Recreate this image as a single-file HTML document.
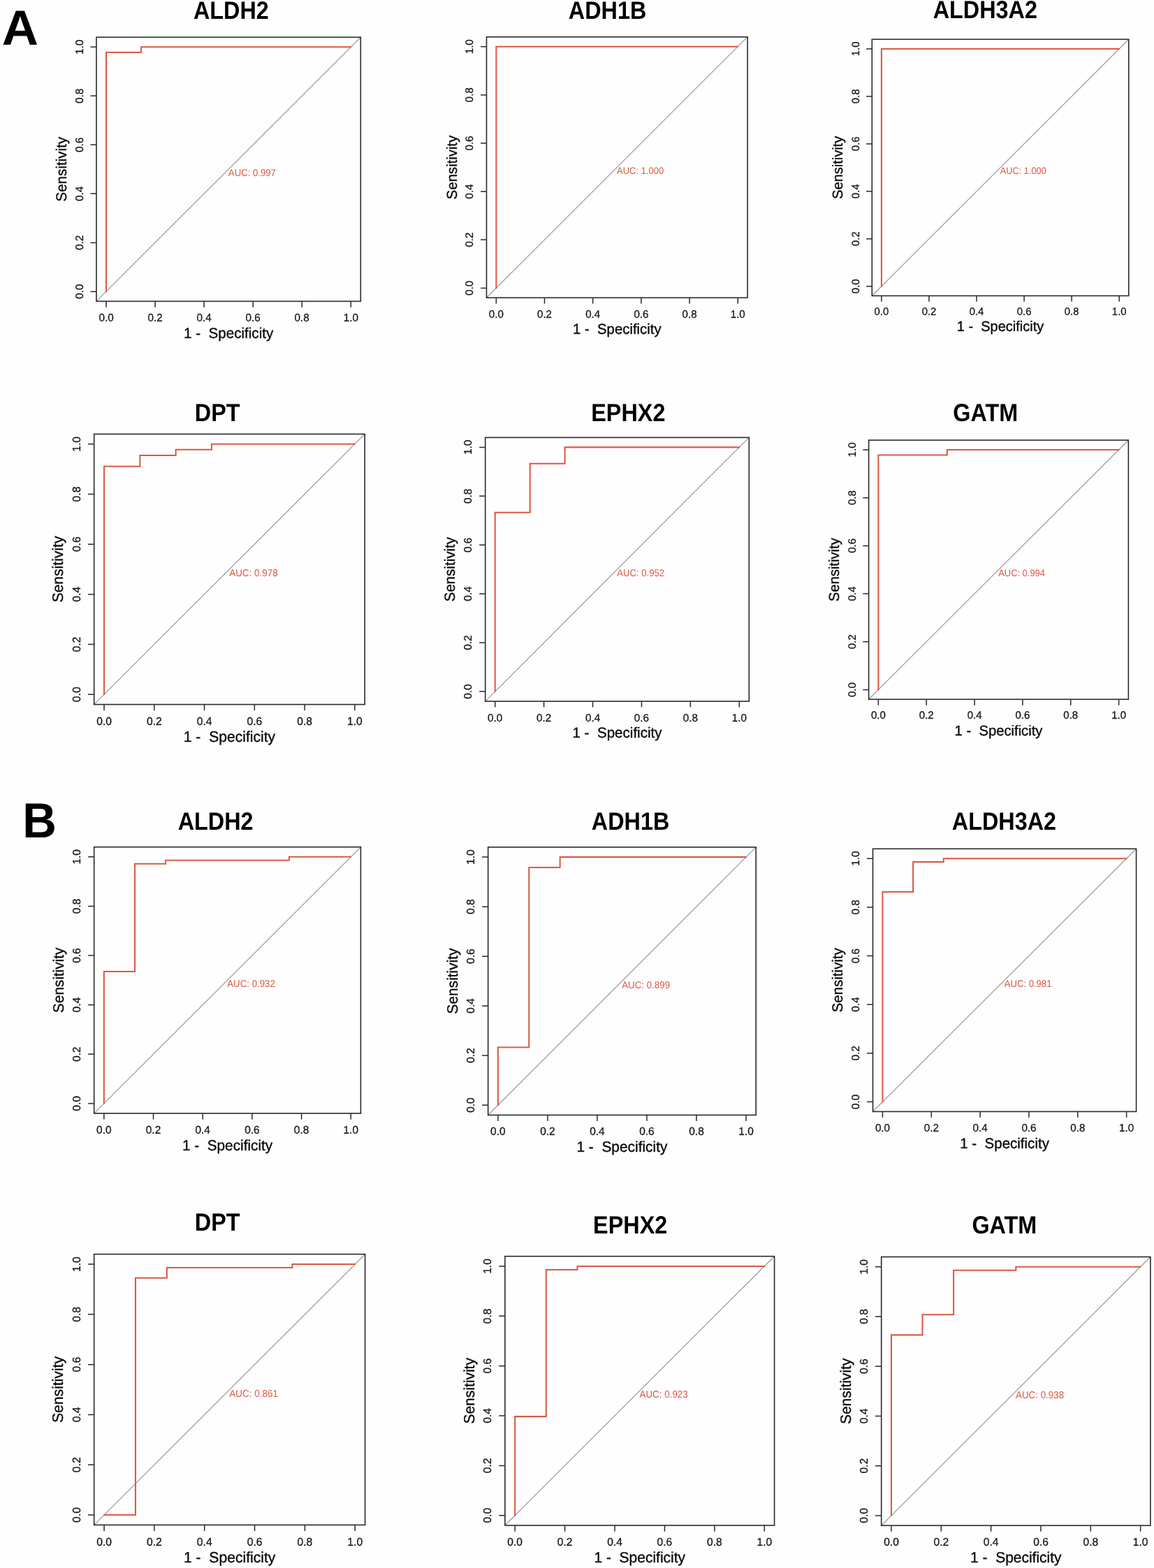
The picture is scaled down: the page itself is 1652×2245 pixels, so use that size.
<!DOCTYPE html>
<html lang="en">
<head>
<meta charset="utf-8">
<title>ROC curves</title>
<style>
html,body{margin:0;padding:0;background:#fefefe;}
body{width:1652px;height:2245px;overflow:hidden;}
svg{display:block;font-family:"Liberation Sans",Arial,Helvetica,sans-serif;}
text{white-space:pre;fill:#111;text-rendering:geometricPrecision;}
.bx{fill:none;stroke:#2a2a2a;stroke-width:1.6;}
.tk{fill:none;stroke:#2a2a2a;stroke-width:1.5;}
.dg{stroke:#9c9c9c;stroke-width:1.25;}
.roc{fill:none;stroke:#da5a45;stroke-width:2.05;stroke-linejoin:miter;stroke-linecap:round;}
.tl text{text-anchor:middle;fill:#161616;stroke:#161616;stroke-width:0.3;}
.al{text-anchor:middle;fill:#0a0a0a;stroke:#0a0a0a;stroke-width:0.35;}
.auc{fill:#da5842;}
.tt{font-weight:700;font-size:32px;text-anchor:middle;fill:#000;}
.pl{font-weight:700;font-size:68px;fill:#000;}
</style>
</head>
<body>
<svg width="1652" height="2245" viewBox="0 0 1652 2245">
<rect x="0" y="0" width="1652" height="2245" fill="#fefefe"/>
<g>
<line class="dg" x1="138" y1="431.4" x2="516.3" y2="53.3"/>
<path class="roc" d="M152.01 417.4 L152.01 75.01 L202.1 75.01 L202.1 67.3 L502.29 67.3"/>
<rect class="bx" x="138" y="53.3" width="378.3" height="378.1"/>
<path class="tk" d="M152.01 431.4V439.9M138 417.4H129.5M222.07 431.4V439.9M138 347.38H129.5M292.12 431.4V439.9M138 277.36H129.5M362.18 431.4V439.9M138 207.34H129.5M432.23 431.4V439.9M138 137.32H129.5M502.29 431.4V439.9M138 67.3H129.5"/>
<g class="tl" font-size="15.31">
<text transform="translate(152.01 459.97) scale(1 1.02)">0.0</text>
<text transform="translate(222.07 459.97) scale(1 1.02)">0.2</text>
<text transform="translate(292.12 459.97) scale(1 1.02)">0.4</text>
<text transform="translate(362.18 459.97) scale(1 1.02)">0.6</text>
<text transform="translate(432.23 459.97) scale(1 1.02)">0.8</text>
<text transform="translate(502.29 459.97) scale(1 1.02)">1.0</text>
<text transform="translate(118.69 417.4) rotate(-90) scale(1 1.02)">0.0</text>
<text transform="translate(118.69 347.38) rotate(-90) scale(1 1.02)">0.2</text>
<text transform="translate(118.69 277.36) rotate(-90) scale(1 1.02)">0.4</text>
<text transform="translate(118.69 207.34) rotate(-90) scale(1 1.02)">0.6</text>
<text transform="translate(118.69 137.32) rotate(-90) scale(1 1.02)">0.8</text>
<text transform="translate(118.69 67.3) rotate(-90) scale(1 1.02)">1.0</text>
</g>
<text class="al" font-size="20.61" transform="translate(327.15 483.63) scale(1 1.015)">1 -  Specificity</text>
<text class="al" font-size="20.61" transform="translate(94.58 242.35) rotate(-90) scale(1 1.015)">Sensitivity</text>
<text class="auc" font-size="13.16" transform="translate(326.85 252.06) scale(1 1.06)">AUC: 0.997</text>
<text class="tt" transform="translate(330.9 27.3) scale(1.012 1.115)">ALDH2</text>
</g>
<g>
<line class="dg" x1="696.5" y1="426.3" x2="1070.1" y2="52.9"/>
<path class="roc" d="M710.34 412.47 L710.34 66.73 L1056.26 66.73"/>
<rect class="bx" x="696.5" y="52.9" width="373.6" height="373.4"/>
<path class="tk" d="M710.34 426.3V434.7M696.5 412.47H688.1M779.52 426.3V434.7M696.5 343.32H688.1M848.71 426.3V434.7M696.5 274.17H688.1M917.89 426.3V434.7M696.5 205.03H688.1M987.08 426.3V434.7M696.5 135.88H688.1M1056.26 426.3V434.7M696.5 66.73H688.1"/>
<g class="tl" font-size="15.12">
<text transform="translate(710.34 454.51) scale(1 1.02)">0.0</text>
<text transform="translate(779.52 454.51) scale(1 1.02)">0.2</text>
<text transform="translate(848.71 454.51) scale(1 1.02)">0.4</text>
<text transform="translate(917.89 454.51) scale(1 1.02)">0.6</text>
<text transform="translate(987.08 454.51) scale(1 1.02)">0.8</text>
<text transform="translate(1056.26 454.51) scale(1 1.02)">1.0</text>
<text transform="translate(677.43 412.47) rotate(-90) scale(1 1.02)">0.0</text>
<text transform="translate(677.43 343.32) rotate(-90) scale(1 1.02)">0.2</text>
<text transform="translate(677.43 274.17) rotate(-90) scale(1 1.02)">0.4</text>
<text transform="translate(677.43 205.03) rotate(-90) scale(1 1.02)">0.6</text>
<text transform="translate(677.43 135.88) rotate(-90) scale(1 1.02)">0.8</text>
<text transform="translate(677.43 66.73) rotate(-90) scale(1 1.02)">1.0</text>
</g>
<text class="al" font-size="20.35" transform="translate(883.3 477.88) scale(1 1.015)">1 -  Specificity</text>
<text class="al" font-size="20.35" transform="translate(653.62 239.6) rotate(-90) scale(1 1.015)">Sensitivity</text>
<text class="auc" font-size="12.99" transform="translate(883 249.18) scale(1 1.06)">AUC: 1.000</text>
<text class="tt" transform="translate(869.6 27.2) scale(1.012 1.115)">ADH1B</text>
</g>
<g>
<line class="dg" x1="1248.3" y1="423.5" x2="1615.8" y2="56.3"/>
<path class="roc" d="M1261.91 409.9 L1261.91 69.9 L1602.19 69.9"/>
<rect class="bx" x="1248.3" y="56.3" width="367.5" height="367.2"/>
<path class="tk" d="M1261.91 423.5V431.76M1248.3 409.9H1240.04M1329.97 423.5V431.76M1248.3 341.9H1240.04M1398.02 423.5V431.76M1248.3 273.9H1240.04M1466.08 423.5V431.76M1248.3 205.9H1240.04M1534.13 423.5V431.76M1248.3 137.9H1240.04M1602.19 423.5V431.76M1248.3 69.9H1240.04"/>
<g class="tl" font-size="14.87">
<text transform="translate(1261.91 451.25) scale(1 1.02)">0.0</text>
<text transform="translate(1329.97 451.25) scale(1 1.02)">0.2</text>
<text transform="translate(1398.02 451.25) scale(1 1.02)">0.4</text>
<text transform="translate(1466.08 451.25) scale(1 1.02)">0.6</text>
<text transform="translate(1534.13 451.25) scale(1 1.02)">0.8</text>
<text transform="translate(1602.19 451.25) scale(1 1.02)">1.0</text>
<text transform="translate(1229.54 409.9) rotate(-90) scale(1 1.02)">0.0</text>
<text transform="translate(1229.54 341.9) rotate(-90) scale(1 1.02)">0.2</text>
<text transform="translate(1229.54 273.9) rotate(-90) scale(1 1.02)">0.4</text>
<text transform="translate(1229.54 205.9) rotate(-90) scale(1 1.02)">0.6</text>
<text transform="translate(1229.54 137.9) rotate(-90) scale(1 1.02)">0.8</text>
<text transform="translate(1229.54 69.9) rotate(-90) scale(1 1.02)">1.0</text>
</g>
<text class="al" font-size="20.02" transform="translate(1432.05 474.23) scale(1 1.015)">1 -  Specificity</text>
<text class="al" font-size="20.02" transform="translate(1206.12 239.9) rotate(-90) scale(1 1.015)">Sensitivity</text>
<text class="auc" font-size="12.78" transform="translate(1431.75 249.33) scale(1 1.06)">AUC: 1.000</text>
<text class="tt" transform="translate(1410.3 25.95) scale(1.012 1.115)">ALDH3A2</text>
</g>
<g>
<line class="dg" x1="134.7" y1="1008.6" x2="522.2" y2="621.5"/>
<path class="roc" d="M149.05 994.26 L149.05 667.74 L200.36 667.74 L200.36 651.97 L251.67 651.97 L251.67 643.72 L302.98 643.72 L302.98 635.84 L507.85 635.84"/>
<rect class="bx" x="134.7" y="621.5" width="387.5" height="387.1"/>
<path class="tk" d="M149.05 1008.6V1017.31M134.7 994.26H125.99M220.81 1008.6V1017.31M134.7 922.58H125.99M292.57 1008.6V1017.31M134.7 850.89H125.99M364.33 1008.6V1017.31M134.7 779.21H125.99M436.09 1008.6V1017.31M134.7 707.52H125.99M507.85 1008.6V1017.31M134.7 635.84H125.99"/>
<g class="tl" font-size="15.68">
<text transform="translate(149.05 1037.85) scale(1 1.02)">0.0</text>
<text transform="translate(220.81 1037.85) scale(1 1.02)">0.2</text>
<text transform="translate(292.57 1037.85) scale(1 1.02)">0.4</text>
<text transform="translate(364.33 1037.85) scale(1 1.02)">0.6</text>
<text transform="translate(436.09 1037.85) scale(1 1.02)">0.8</text>
<text transform="translate(507.85 1037.85) scale(1 1.02)">1.0</text>
<text transform="translate(114.93 994.26) rotate(-90) scale(1 1.02)">0.0</text>
<text transform="translate(114.93 922.58) rotate(-90) scale(1 1.02)">0.2</text>
<text transform="translate(114.93 850.89) rotate(-90) scale(1 1.02)">0.4</text>
<text transform="translate(114.93 779.21) rotate(-90) scale(1 1.02)">0.6</text>
<text transform="translate(114.93 707.52) rotate(-90) scale(1 1.02)">0.8</text>
<text transform="translate(114.93 635.84) rotate(-90) scale(1 1.02)">1.0</text>
</g>
<text class="al" font-size="21.11" transform="translate(328.45 1062.08) scale(1 1.015)">1 -  Specificity</text>
<text class="al" font-size="21.11" transform="translate(90.23 815.05) rotate(-90) scale(1 1.015)">Sensitivity</text>
<text class="auc" font-size="13.47" transform="translate(328.15 824.99) scale(1 1.06)">AUC: 0.978</text>
<text class="tt" transform="translate(311.2 603.1) scale(1.012 1.115)">DPT</text>
</g>
<g>
<line class="dg" x1="694.7" y1="1004.1" x2="1072.3" y2="626.4"/>
<path class="roc" d="M708.69 990.11 L708.69 733.76 L758.68 733.76 L758.68 663.82 L808.68 663.82 L808.68 640.39 L1058.31 640.39"/>
<rect class="bx" x="694.7" y="626.4" width="377.6" height="377.7"/>
<path class="tk" d="M708.69 1004.1V1012.59M694.7 990.11H686.21M778.61 1004.1V1012.59M694.7 920.17H686.21M848.54 1004.1V1012.59M694.7 850.22H686.21M918.46 1004.1V1012.59M694.7 780.28H686.21M988.39 1004.1V1012.59M694.7 710.33H686.21M1058.31 1004.1V1012.59M694.7 640.39H686.21"/>
<g class="tl" font-size="15.29">
<text transform="translate(708.69 1032.62) scale(1 1.02)">0.0</text>
<text transform="translate(778.61 1032.62) scale(1 1.02)">0.2</text>
<text transform="translate(848.54 1032.62) scale(1 1.02)">0.4</text>
<text transform="translate(918.46 1032.62) scale(1 1.02)">0.6</text>
<text transform="translate(988.39 1032.62) scale(1 1.02)">0.8</text>
<text transform="translate(1058.31 1032.62) scale(1 1.02)">1.0</text>
<text transform="translate(675.42 990.11) rotate(-90) scale(1 1.02)">0.0</text>
<text transform="translate(675.42 920.17) rotate(-90) scale(1 1.02)">0.2</text>
<text transform="translate(675.42 850.22) rotate(-90) scale(1 1.02)">0.4</text>
<text transform="translate(675.42 780.28) rotate(-90) scale(1 1.02)">0.6</text>
<text transform="translate(675.42 710.33) rotate(-90) scale(1 1.02)">0.8</text>
<text transform="translate(675.42 640.39) rotate(-90) scale(1 1.02)">1.0</text>
</g>
<text class="al" font-size="20.58" transform="translate(883.5 1056.25) scale(1 1.015)">1 -  Specificity</text>
<text class="al" font-size="20.58" transform="translate(651.34 815.25) rotate(-90) scale(1 1.015)">Sensitivity</text>
<text class="auc" font-size="13.14" transform="translate(883.2 824.94) scale(1 1.06)">AUC: 0.952</text>
<text class="tt" transform="translate(899.35 603.1) scale(1.012 1.115)">EPHX2</text>
</g>
<g>
<line class="dg" x1="1243.6" y1="1001.3" x2="1615.4" y2="630.2"/>
<path class="roc" d="M1257.37 987.56 L1257.37 651.5 L1355.83 651.5 L1355.83 643.94 L1601.63 643.94"/>
<rect class="bx" x="1243.6" y="630.2" width="371.8" height="371.1"/>
<path class="tk" d="M1257.37 1001.3V1009.65M1243.6 987.56H1235.25M1326.22 1001.3V1009.65M1243.6 918.83H1235.25M1395.07 1001.3V1009.65M1243.6 850.11H1235.25M1463.93 1001.3V1009.65M1243.6 781.39H1235.25M1532.78 1001.3V1009.65M1243.6 712.67H1235.25M1601.63 1001.3V1009.65M1243.6 643.94H1235.25"/>
<g class="tl" font-size="15.03">
<text transform="translate(1257.37 1029.36) scale(1 1.02)">0.0</text>
<text transform="translate(1326.22 1029.36) scale(1 1.02)">0.2</text>
<text transform="translate(1395.07 1029.36) scale(1 1.02)">0.4</text>
<text transform="translate(1463.93 1029.36) scale(1 1.02)">0.6</text>
<text transform="translate(1532.78 1029.36) scale(1 1.02)">0.8</text>
<text transform="translate(1601.63 1029.36) scale(1 1.02)">1.0</text>
<text transform="translate(1224.63 987.56) rotate(-90) scale(1 1.02)">0.0</text>
<text transform="translate(1224.63 918.83) rotate(-90) scale(1 1.02)">0.2</text>
<text transform="translate(1224.63 850.11) rotate(-90) scale(1 1.02)">0.4</text>
<text transform="translate(1224.63 781.39) rotate(-90) scale(1 1.02)">0.6</text>
<text transform="translate(1224.63 712.67) rotate(-90) scale(1 1.02)">0.8</text>
<text transform="translate(1224.63 643.94) rotate(-90) scale(1 1.02)">1.0</text>
</g>
<text class="al" font-size="20.24" transform="translate(1429.5 1052.6) scale(1 1.015)">1 -  Specificity</text>
<text class="al" font-size="20.24" transform="translate(1200.95 815.75) rotate(-90) scale(1 1.015)">Sensitivity</text>
<text class="auc" font-size="12.92" transform="translate(1429.2 825.28) scale(1 1.06)">AUC: 0.994</text>
<text class="tt" transform="translate(1410.7 603.1) scale(1.012 1.115)">GATM</text>
</g>
<g>
<line class="dg" x1="134.7" y1="1594.1" x2="516.4" y2="1212.7"/>
<path class="roc" d="M148.84 1579.97 L148.84 1391.04 L193.02 1391.04 L193.02 1236.71 L237.19 1236.71 L237.19 1231.77 L413.91 1231.77 L413.91 1226.83 L502.26 1226.83"/>
<rect class="bx" x="134.7" y="1212.7" width="381.7" height="381.4"/>
<path class="tk" d="M148.84 1594.1V1602.68M134.7 1579.97H126.12M219.52 1594.1V1602.68M134.7 1509.34H126.12M290.21 1594.1V1602.68M134.7 1438.71H126.12M360.89 1594.1V1602.68M134.7 1368.09H126.12M431.58 1594.1V1602.68M134.7 1297.46H126.12M502.26 1594.1V1602.68M134.7 1226.83H126.12"/>
<g class="tl" font-size="15.44">
<text transform="translate(148.84 1622.92) scale(1 1.02)">0.0</text>
<text transform="translate(219.52 1622.92) scale(1 1.02)">0.2</text>
<text transform="translate(290.21 1622.92) scale(1 1.02)">0.4</text>
<text transform="translate(360.89 1622.92) scale(1 1.02)">0.6</text>
<text transform="translate(431.58 1622.92) scale(1 1.02)">0.8</text>
<text transform="translate(502.26 1622.92) scale(1 1.02)">1.0</text>
<text transform="translate(115.22 1579.97) rotate(-90) scale(1 1.02)">0.0</text>
<text transform="translate(115.22 1509.34) rotate(-90) scale(1 1.02)">0.2</text>
<text transform="translate(115.22 1438.71) rotate(-90) scale(1 1.02)">0.4</text>
<text transform="translate(115.22 1368.09) rotate(-90) scale(1 1.02)">0.6</text>
<text transform="translate(115.22 1297.46) rotate(-90) scale(1 1.02)">0.8</text>
<text transform="translate(115.22 1226.83) rotate(-90) scale(1 1.02)">1.0</text>
</g>
<text class="al" font-size="20.79" transform="translate(325.55 1646.79) scale(1 1.015)">1 -  Specificity</text>
<text class="al" font-size="20.79" transform="translate(90.89 1403.4) rotate(-90) scale(1 1.015)">Sensitivity</text>
<text class="auc" font-size="13.27" transform="translate(325.25 1413.19) scale(1 1.06)">AUC: 0.932</text>
<text class="tt" transform="translate(308.6 1188.25) scale(1.012 1.115)">ALDH2</text>
</g>
<g>
<line class="dg" x1="698.7" y1="1596.5" x2="1082.2" y2="1212.9"/>
<path class="roc" d="M712.9 1582.29 L712.9 1499.53 L757.29 1499.53 L757.29 1242.03 L801.68 1242.03 L801.68 1227.11 L1068 1227.11"/>
<rect class="bx" x="698.7" y="1212.9" width="383.5" height="383.6"/>
<path class="tk" d="M712.9 1596.5V1605.12M698.7 1582.29H690.08M783.92 1596.5V1605.12M698.7 1511.26H690.08M854.94 1596.5V1605.12M698.7 1440.22H690.08M925.96 1596.5V1605.12M698.7 1369.18H690.08M996.98 1596.5V1605.12M698.7 1298.14H690.08M1068 1596.5V1605.12M698.7 1227.11H690.08"/>
<g class="tl" font-size="15.52">
<text transform="translate(712.9 1625.47) scale(1 1.02)">0.0</text>
<text transform="translate(783.92 1625.47) scale(1 1.02)">0.2</text>
<text transform="translate(854.94 1625.47) scale(1 1.02)">0.4</text>
<text transform="translate(925.96 1625.47) scale(1 1.02)">0.6</text>
<text transform="translate(996.98 1625.47) scale(1 1.02)">0.8</text>
<text transform="translate(1068 1625.47) scale(1 1.02)">1.0</text>
<text transform="translate(679.12 1582.29) rotate(-90) scale(1 1.02)">0.0</text>
<text transform="translate(679.12 1511.26) rotate(-90) scale(1 1.02)">0.2</text>
<text transform="translate(679.12 1440.22) rotate(-90) scale(1 1.02)">0.4</text>
<text transform="translate(679.12 1369.18) rotate(-90) scale(1 1.02)">0.6</text>
<text transform="translate(679.12 1298.14) rotate(-90) scale(1 1.02)">0.8</text>
<text transform="translate(679.12 1227.11) rotate(-90) scale(1 1.02)">1.0</text>
</g>
<text class="al" font-size="20.9" transform="translate(890.45 1649.47) scale(1 1.015)">1 -  Specificity</text>
<text class="al" font-size="20.9" transform="translate(654.66 1404.7) rotate(-90) scale(1 1.015)">Sensitivity</text>
<text class="auc" font-size="13.34" transform="translate(890.15 1414.54) scale(1 1.06)">AUC: 0.899</text>
<text class="tt" transform="translate(902.6 1188.25) scale(1.012 1.115)">ADH1B</text>
</g>
<g>
<line class="dg" x1="1249.5" y1="1591.5" x2="1626.6" y2="1215.3"/>
<path class="roc" d="M1263.47 1577.57 L1263.47 1276.95 L1307.11 1276.95 L1307.11 1234.11 L1350.76 1234.11 L1350.76 1229.23 L1612.63 1229.23"/>
<rect class="bx" x="1249.5" y="1215.3" width="377.1" height="376.2"/>
<path class="tk" d="M1263.47 1591.5V1599.97M1249.5 1577.57H1241.03M1333.3 1591.5V1599.97M1249.5 1507.9H1241.03M1403.13 1591.5V1599.97M1249.5 1438.23H1241.03M1472.97 1591.5V1599.97M1249.5 1368.57H1241.03M1542.8 1591.5V1599.97M1249.5 1298.9H1241.03M1612.63 1591.5V1599.97M1249.5 1229.23H1241.03"/>
<g class="tl" font-size="15.25">
<text transform="translate(1263.47 1619.95) scale(1 1.02)">0.0</text>
<text transform="translate(1333.3 1619.95) scale(1 1.02)">0.2</text>
<text transform="translate(1403.13 1619.95) scale(1 1.02)">0.4</text>
<text transform="translate(1472.97 1619.95) scale(1 1.02)">0.6</text>
<text transform="translate(1542.8 1619.95) scale(1 1.02)">0.8</text>
<text transform="translate(1612.63 1619.95) scale(1 1.02)">1.0</text>
<text transform="translate(1230.27 1577.57) rotate(-90) scale(1 1.02)">0.0</text>
<text transform="translate(1230.27 1507.9) rotate(-90) scale(1 1.02)">0.2</text>
<text transform="translate(1230.27 1438.23) rotate(-90) scale(1 1.02)">0.4</text>
<text transform="translate(1230.27 1368.57) rotate(-90) scale(1 1.02)">0.6</text>
<text transform="translate(1230.27 1298.9) rotate(-90) scale(1 1.02)">0.8</text>
<text transform="translate(1230.27 1229.23) rotate(-90) scale(1 1.02)">1.0</text>
</g>
<text class="al" font-size="20.53" transform="translate(1438.05 1643.51) scale(1 1.015)">1 -  Specificity</text>
<text class="al" font-size="20.53" transform="translate(1206.26 1403.4) rotate(-90) scale(1 1.015)">Sensitivity</text>
<text class="auc" font-size="13.1" transform="translate(1437.75 1413.07) scale(1 1.06)">AUC: 0.981</text>
<text class="tt" transform="translate(1437.45 1188.3) scale(1.012 1.115)">ALDH3A2</text>
</g>
<g>
<line class="dg" x1="134.7" y1="2183.4" x2="522.6" y2="1795.7"/>
<path class="roc" d="M149.07 2169.04 L193.96 2169.04 L193.96 1829.8 L238.86 1829.8 L238.86 1815.09 L418.44 1815.09 L418.44 1810.06 L508.23 1810.06"/>
<rect class="bx" x="134.7" y="1795.7" width="387.9" height="387.7"/>
<path class="tk" d="M149.07 2183.4V2192.12M134.7 2169.04H125.98M220.9 2183.4V2192.12M134.7 2097.24H125.98M292.73 2183.4V2192.12M134.7 2025.45H125.98M364.57 2183.4V2192.12M134.7 1953.65H125.98M436.4 2183.4V2192.12M134.7 1881.86H125.98M508.23 2183.4V2192.12M134.7 1810.06H125.98"/>
<g class="tl" font-size="15.7">
<text transform="translate(149.07 2212.69) scale(1 1.02)">0.0</text>
<text transform="translate(220.9 2212.69) scale(1 1.02)">0.2</text>
<text transform="translate(292.73 2212.69) scale(1 1.02)">0.4</text>
<text transform="translate(364.57 2212.69) scale(1 1.02)">0.6</text>
<text transform="translate(436.4 2212.69) scale(1 1.02)">0.8</text>
<text transform="translate(508.23 2212.69) scale(1 1.02)">1.0</text>
<text transform="translate(114.9 2169.04) rotate(-90) scale(1 1.02)">0.0</text>
<text transform="translate(114.9 2097.24) rotate(-90) scale(1 1.02)">0.2</text>
<text transform="translate(114.9 2025.45) rotate(-90) scale(1 1.02)">0.4</text>
<text transform="translate(114.9 1953.65) rotate(-90) scale(1 1.02)">0.6</text>
<text transform="translate(114.9 1881.86) rotate(-90) scale(1 1.02)">0.8</text>
<text transform="translate(114.9 1810.06) rotate(-90) scale(1 1.02)">1.0</text>
</g>
<text class="al" font-size="21.13" transform="translate(328.65 2236.95) scale(1 1.015)">1 -  Specificity</text>
<text class="al" font-size="21.13" transform="translate(90.17 1989.55) rotate(-90) scale(1 1.015)">Sensitivity</text>
<text class="auc" font-size="13.49" transform="translate(328.35 1999.5) scale(1 1.06)">AUC: 0.861</text>
<text class="tt" transform="translate(311.2 1762.1) scale(1.012 1.115)">DPT</text>
</g>
<g>
<line class="dg" x1="722.9" y1="2184" x2="1108.6" y2="1798.7"/>
<path class="roc" d="M737.19 2169.73 L737.19 2028.1 L781.83 2028.1 L781.83 1817.97 L826.47 1817.97 L826.47 1812.97 L1094.31 1812.97"/>
<rect class="bx" x="722.9" y="1798.7" width="385.7" height="385.3"/>
<path class="tk" d="M737.19 2184V2192.67M722.9 2169.73H714.23M808.61 2184V2192.67M722.9 2098.38H714.23M880.04 2184V2192.67M722.9 2027.03H714.23M951.46 2184V2192.67M722.9 1955.67H714.23M1022.89 2184V2192.67M722.9 1884.32H714.23M1094.31 2184V2192.67M722.9 1812.97H714.23"/>
<g class="tl" font-size="15.6">
<text transform="translate(737.19 2213.12) scale(1 1.02)">0.0</text>
<text transform="translate(808.61 2213.12) scale(1 1.02)">0.2</text>
<text transform="translate(880.04 2213.12) scale(1 1.02)">0.4</text>
<text transform="translate(951.46 2213.12) scale(1 1.02)">0.6</text>
<text transform="translate(1022.89 2213.12) scale(1 1.02)">0.8</text>
<text transform="translate(1094.31 2213.12) scale(1 1.02)">1.0</text>
<text transform="translate(703.22 2169.73) rotate(-90) scale(1 1.02)">0.0</text>
<text transform="translate(703.22 2098.38) rotate(-90) scale(1 1.02)">0.2</text>
<text transform="translate(703.22 2027.03) rotate(-90) scale(1 1.02)">0.4</text>
<text transform="translate(703.22 1955.67) rotate(-90) scale(1 1.02)">0.6</text>
<text transform="translate(703.22 1884.32) rotate(-90) scale(1 1.02)">0.8</text>
<text transform="translate(703.22 1812.97) rotate(-90) scale(1 1.02)">1.0</text>
</g>
<text class="al" font-size="21.01" transform="translate(915.75 2237.24) scale(1 1.015)">1 -  Specificity</text>
<text class="al" font-size="21.01" transform="translate(678.64 1991.35) rotate(-90) scale(1 1.015)">Sensitivity</text>
<text class="auc" font-size="13.41" transform="translate(915.45 2001.24) scale(1 1.06)">AUC: 0.923</text>
<text class="tt" transform="translate(902.15 1765.6) scale(1.012 1.115)">EPHX2</text>
</g>
<g>
<line class="dg" x1="1261.7" y1="2184.2" x2="1646.9" y2="1799.55"/>
<path class="roc" d="M1275.97 2169.95 L1275.97 1911.38 L1320.55 1911.38 L1320.55 1882.18 L1365.13 1882.18 L1365.13 1818.78 L1454.3 1818.78 L1454.3 1813.8 L1632.63 1813.8"/>
<rect class="bx" x="1261.7" y="1799.55" width="385.2" height="384.65"/>
<path class="tk" d="M1275.97 2184.2V2192.86M1261.7 2169.95H1253.04M1347.3 2184.2V2192.86M1261.7 2098.72H1253.04M1418.63 2184.2V2192.86M1261.7 2027.49H1253.04M1489.97 2184.2V2192.86M1261.7 1956.26H1253.04M1561.3 2184.2V2192.86M1261.7 1885.03H1253.04M1632.63 2184.2V2192.86M1261.7 1813.8H1253.04"/>
<g class="tl" font-size="15.58">
<text transform="translate(1275.97 2213.27) scale(1 1.02)">0.0</text>
<text transform="translate(1347.3 2213.27) scale(1 1.02)">0.2</text>
<text transform="translate(1418.63 2213.27) scale(1 1.02)">0.4</text>
<text transform="translate(1489.97 2213.27) scale(1 1.02)">0.6</text>
<text transform="translate(1561.3 2213.27) scale(1 1.02)">0.8</text>
<text transform="translate(1632.63 2213.27) scale(1 1.02)">1.0</text>
<text transform="translate(1242.05 2169.95) rotate(-90) scale(1 1.02)">0.0</text>
<text transform="translate(1242.05 2098.72) rotate(-90) scale(1 1.02)">0.2</text>
<text transform="translate(1242.05 2027.49) rotate(-90) scale(1 1.02)">0.4</text>
<text transform="translate(1242.05 1956.26) rotate(-90) scale(1 1.02)">0.6</text>
<text transform="translate(1242.05 1885.03) rotate(-90) scale(1 1.02)">0.8</text>
<text transform="translate(1242.05 1813.8) rotate(-90) scale(1 1.02)">1.0</text>
</g>
<text class="al" font-size="20.98" transform="translate(1454.3 2237.36) scale(1 1.015)">1 -  Specificity</text>
<text class="al" font-size="20.98" transform="translate(1217.5 1991.88) rotate(-90) scale(1 1.015)">Sensitivity</text>
<text class="auc" font-size="13.39" transform="translate(1454 2001.75) scale(1 1.06)">AUC: 0.938</text>
<text class="tt" transform="translate(1437.85 1765.6) scale(1.012 1.115)">GATM</text>
</g>
<text class="pl" transform="translate(2.7 64.0) scale(1.063 1.039)">A</text>
<text class="pl" transform="translate(32.3 1198.8) scale(0.99 1.038)">B</text>
</svg>
</body>
</html>
